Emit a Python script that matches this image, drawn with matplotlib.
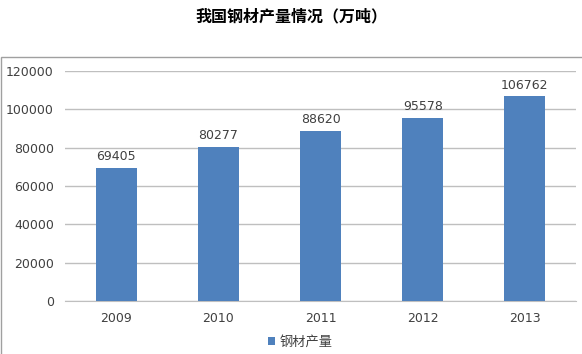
import matplotlib
matplotlib.use("Agg")
import matplotlib.pyplot as plt
from matplotlib.patches import Rectangle

plt.rcParams['font.family'] = ['Noto Sans CJK SC', 'DejaVu Sans']

years = ['2009', '2010', '2011', '2012', '2013']
values = [69405, 80277, 88620, 95578, 106762]
yticks = [0, 20000, 40000, 60000, 80000, 100000, 120000]
series_name = '钢材产量'
title = '我国钢材产量情况（万吨）'

W, H = 582, 354
fig = plt.figure(figsize=(W/100, H/100), dpi=100)
ax = fig.add_axes([65/W, 1-301/H, (576-65)/W, (301-71)/H])

bar_color = '#4F81BD'
x = range(len(years))
bars = ax.bar(x, values, width=0.4, color=bar_color, label=series_name, zorder=3)
for xi, v in zip(x, values):
    ax.text(xi, v + 2500, str(v), ha='center', va='bottom', fontsize=9, color='#404040',
            family='DejaVu Sans')

ax.set_xlim(-0.5, len(years) - 0.5)
ax.set_ylim(0, 120000)
ax.set_yticks(yticks)
ax.set_yticklabels([str(t) for t in yticks], family='DejaVu Sans')
ax.set_xticks(list(x))
ax.set_xticklabels(years, family='DejaVu Sans')
ax.tick_params(axis='both', length=0, labelsize=9, colors='#404040')
ax.tick_params(axis='y', pad=8)
ax.tick_params(axis='x', pad=8)
ax.yaxis.grid(True, color='#BFBFBF', linewidth=1, zorder=0)
for s in ['top', 'right', 'left']:
    ax.spines[s].set_visible(False)
ax.spines['bottom'].set_color('#BFBFBF')

fig.text(0.5, 1-16/H, title, ha='center', va='center', fontsize=11.5, fontweight='bold', color='#000000')

# chart border
fig.patches.append(Rectangle((0.5/W, -0.01), 1.05, 1-56.5/H + 0.01, transform=fig.transFigure,
                             fill=False, edgecolor='#A0A0A0', linewidth=1))

leg = fig.legend(handles=[bars], labels=[series_name], loc='center', bbox_to_anchor=(300/W, 1-342/H),
                 frameon=False, fontsize=9.5, handlelength=0.6, handleheight=0.6, handletextpad=0.3,
                 labelcolor='#404040')

fig.savefig('out.png', dpi=100)
